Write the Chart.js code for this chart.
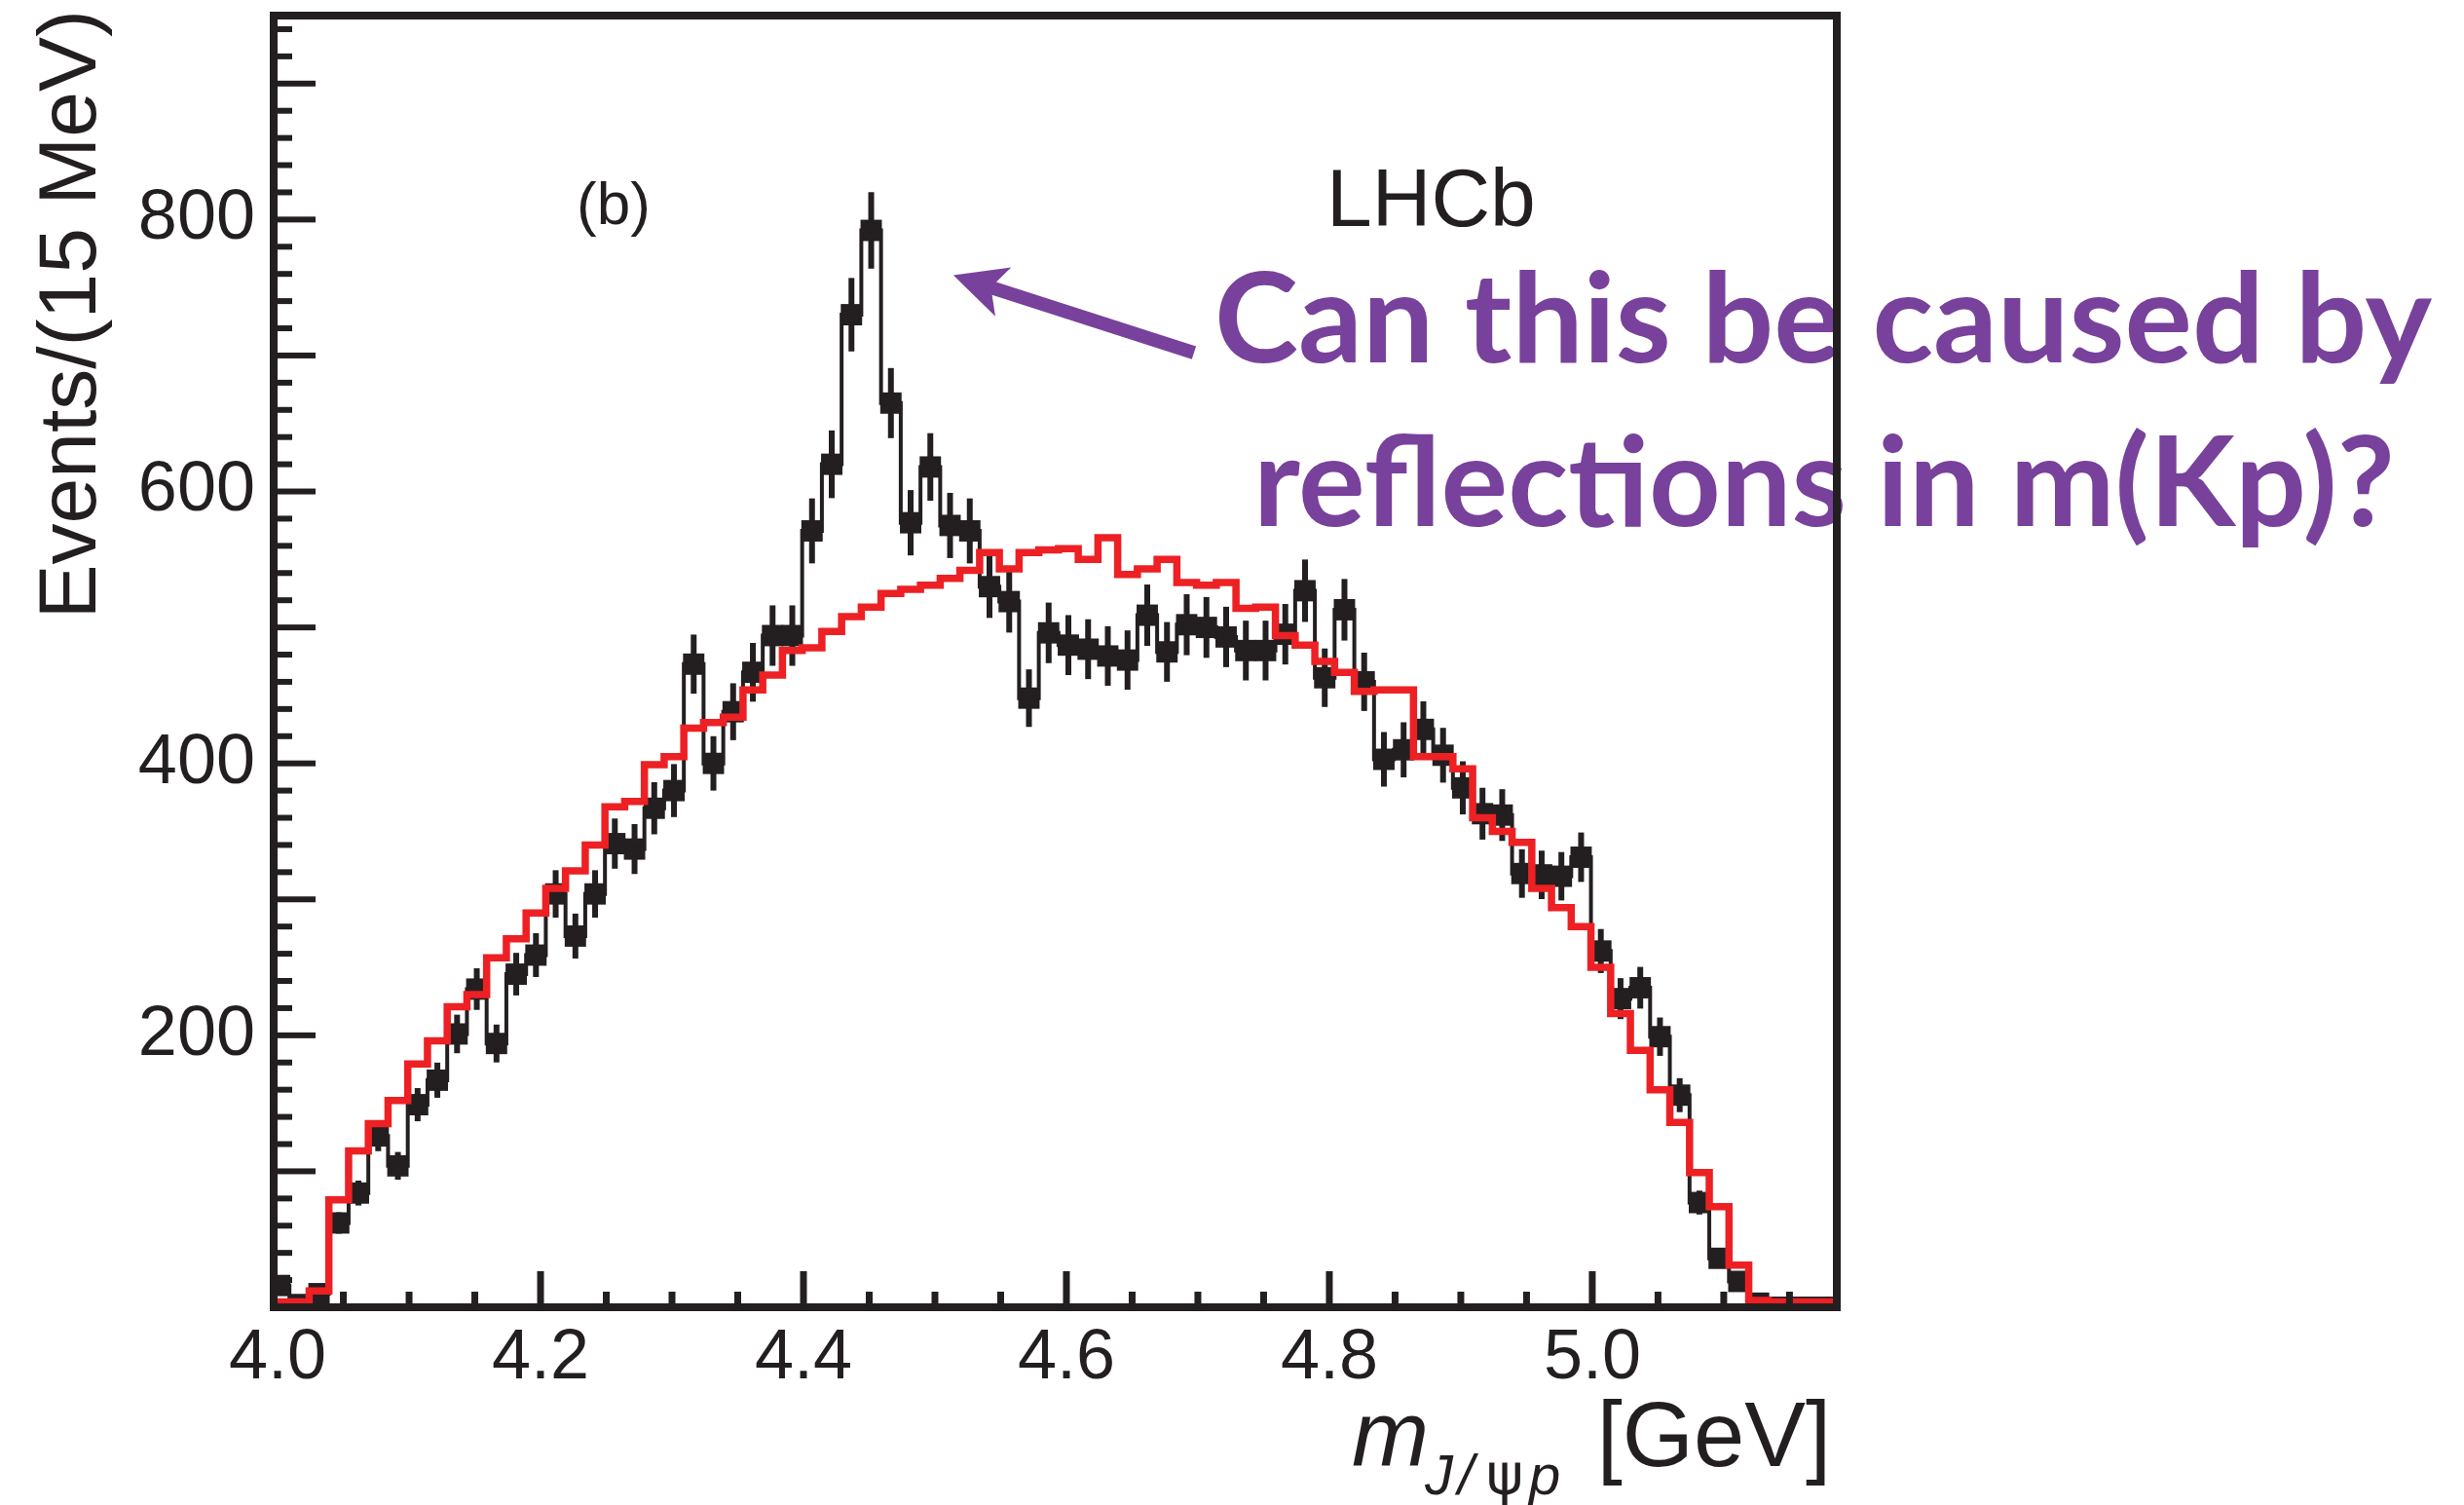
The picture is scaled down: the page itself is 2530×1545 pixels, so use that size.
<!DOCTYPE html>
<html>
<head>
<meta charset="utf-8">
<script src="https://cdn.jsdelivr.net/npm/chart.js@4.4.1/dist/chart.umd.min.js"></script>
<style>
  html, body { margin: 0; padding: 0; background: #fff; }
  canvas { display: block; }
</style>
</head>
<body>
<canvas id="grafico" width="2530" height="1545"></canvas>
<script>
// bins of 15 MeV, first low edge
const binStart = 3.994
const binWidth = 0.015

const events = [
  16, 2, 10, 62, 84, 126, 104, 149, 167, 201,
  234, 194, 245, 259, 304, 273, 304, 341, 337, 367,
  380, 473, 400, 438, 467, 494, 494, 571, 620, 730,
  792, 665, 577, 618, 575, 571, 530, 519, 448, 496,
  487, 484, 479, 476, 509, 482, 502, 500, 493, 483,
  483, 495, 527, 463, 513, 460, 403, 410, 425, 406,
  382, 363, 362, 319, 318, 317, 331, 262, 227, 235,
  199, 156, 77, 36, 19, 3, 0, 0, 0, 0
]

const model = [
  4, 4, 12, 79, 115, 135, 152, 179, 196, 221,
  230, 257, 271, 290, 308, 321, 340, 368, 372, 399,
  405, 426, 430, 434, 454, 465, 483, 485, 497, 508,
  515, 525, 528, 531, 536, 542, 555, 543, 555, 557,
  558, 550, 566, 539, 543, 550, 533, 531, 533, 514,
  515, 494, 487, 475, 467, 453, 454, 454, 405, 405,
  396, 360, 350, 342, 308, 294, 280, 250, 216, 189,
  160, 136, 99, 74, 31, 5, 4, 4, 4, 4
]

const xTicks = [4.0, 4.2, 4.4, 4.6, 4.8, 5.0]
const yTicks = [200, 400, 600, 800]

const black = '#231f20'
const red = '#ed2024'
const purple = '#78419b'

function stepPoints(values) {
  const pts = values.map((v, i) => ({ x: binStart + i * binWidth, y: v }))
  pts.push({ x: binStart + values.length * binWidth, y: values[values.length - 1] })
  return pts
}

const centers = events.map((v, i) => ({ x: binStart + (i + 0.5) * binWidth, y: v }))

function fitText(ctx, text, x, y, width) {
  const w = ctx.measureText(text).width
  ctx.save()
  ctx.translate(x, y)
  ctx.scale(width / w, 1)
  ctx.fillText(text, 0, 0)
  ctx.restore()
}

const decor = {
  id: 'decor',
  beforeDatasetsDraw(chart) {
    const ctx = chart.ctx
    const xs = chart.scales.x
    const ys = chart.scales.y
    const a = chart.chartArea
    ctx.save()
    ctx.beginPath()
    ctx.rect(a.left, a.top, a.right - a.left, a.bottom - a.top)
    ctx.clip()
    ctx.strokeStyle = black
    ctx.lineWidth = 6
    centers.forEach(p => {
      if (p.y <= 0) return
      const e = Math.sqrt(p.y)
      const px = xs.getPixelForValue(p.x)
      ctx.beginPath()
      ctx.moveTo(px, ys.getPixelForValue(p.y - e))
      ctx.lineTo(px, ys.getPixelForValue(p.y + e))
      ctx.stroke()
    })
    ctx.restore()
  },
  afterDraw(chart) {
    const ctx = chart.ctx
    const xs = chart.scales.x
    const ys = chart.scales.y
    const a = chart.chartArea
    ctx.save()

    // annotation
    ctx.fillStyle = purple
    ctx.font = 'bold 128px Lato'
    ctx.textAlign = 'left'
    ctx.textBaseline = 'alphabetic'
    fitText(ctx, 'Can this be caused by', 1247, 372, 1250)
    fitText(ctx, 'reflections in m(Kp)?', 1287, 540, 1172)

    const tx = xs.getPixelForValue(4.514), ty = ys.getPixelForValue(759)
    const ex = xs.getPixelForValue(4.697), ey = ys.getPixelForValue(702)
    const len = Math.hypot(ex - tx, ey - ty)
    ctx.translate(tx, ty)
    ctx.rotate(Math.atan2(ey - ty, ex - tx))
    ctx.beginPath()
    ctx.moveTo(0, 0)
    ctx.lineTo(54, -26)
    ctx.lineTo(44, -7)
    ctx.lineTo(len, -7)
    ctx.lineTo(len, 7)
    ctx.lineTo(44, 7)
    ctx.lineTo(54, 27)
    ctx.closePath()
    ctx.fill()
    ctx.setTransform(1, 0, 0, 1, 0, 0)

    // ticks inside the frame
    ctx.fillStyle = black
    for (let v = 20; v < 950; v += 20) {
      const y = ys.getPixelForValue(v)
      ctx.fillRect(a.left, y - 3, v % 100 === 0 ? 43 : 19, 6)
    }
    for (let i = 1; i <= 23; i++) {
      const x = xs.getPixelForValue(4 + i * 0.05)
      const l = i % 4 === 0 ? 37 : 16
      ctx.fillRect(x - 3.5, a.bottom - l, 7, l)
    }

    ctx.strokeStyle = black
    ctx.lineWidth = 8
    ctx.strokeRect(a.left, a.top, a.right - a.left, a.bottom - a.top)

    // labels
    ctx.fillStyle = black
    ctx.font = '62px "Liberation Sans"'
    ctx.fillText('(b)', 592, 230)
    ctx.font = '84px "Liberation Sans"'
    ctx.fillText('LHCb', 1362, 232)

    ctx.save()
    ctx.translate(98, 10)
    ctx.rotate(-Math.PI / 2)
    ctx.textAlign = 'right'
    ctx.font = '84px "Liberation Sans"'
    ctx.fillText('Events/(15 MeV)', 0, 0)
    ctx.restore()

    ctx.textAlign = 'left'
    ctx.font = 'italic 95px "Liberation Sans"'
    ctx.fillText('m', 1388, 1505)
    ctx.font = 'italic 58px "Liberation Sans"'
    ctx.fillText('J', 1463, 1534)
    ctx.fillText('/', 1497, 1534)
    ctx.fillText('p', 1570, 1534)
    ctx.font = '58px "DejaVu Sans"'
    ctx.fillText('ψ', 1526, 1534)
    ctx.textAlign = 'right'
    ctx.font = '94px "Liberation Sans"'
    ctx.fillText('[GeV]', 1880, 1505)
    ctx.restore()
  }
}

new Chart(document.getElementById('grafico'), {
  type: 'scatter',
  data: {
    datasets: [
      {
        type: 'line',
        data: stepPoints(model),
        stepped: true,
        borderColor: red,
        borderWidth: 7.5,
        pointRadius: 0,
        fill: false,
        clip: 0
      },
      {
        type: 'line',
        data: stepPoints(events),
        stepped: true,
        borderColor: black,
        borderWidth: 4,
        pointRadius: 0,
        fill: false,
        clip: 0
      },
      {
        data: centers,
        pointStyle: 'rect',
        pointRadius: 15.5,
        backgroundColor: black,
        borderWidth: 0,
        clip: 0
      }
    ]
  },
  options: {
    responsive: false,
    animation: false,
    devicePixelRatio: 1,
    layout: { padding: { top: 16, right: 644, left: 0, bottom: 0 } },
    plugins: { legend: { display: false }, tooltip: { enabled: false } },
    scales: {
      x: {
        type: 'linear',
        min: 3.997,
        max: 5.186,
        grid: { display: false, drawTicks: false },
        border: { display: false },
        afterBuildTicks: s => { s.ticks = xTicks.map(v => ({ value: v })) },
        afterFit: s => {
          s.height = 203
          s.paddingLeft = 0
          s.paddingRight = 0
        },
        ticks: {
          color: black,
          font: { family: 'Liberation Sans', size: 72 },
          padding: 10,
          maxRotation: 0,
          autoSkip: false,
          callback: v => v.toFixed(1)
        }
      },
      y: {
        min: 0,
        max: 950,
        grid: { display: false, drawTicks: false },
        border: { display: false },
        afterBuildTicks: s => { s.ticks = yTicks.map(v => ({ value: v })) },
        afterFit: s => {
          s.width = 281
          s.paddingTop = 0
          s.paddingBottom = 0
        },
        ticks: {
          color: black,
          font: { family: 'Liberation Sans', size: 72 },
          padding: 19,
          callback: v => String(v)
        }
      }
    }
  },
  plugins: [decor]
})
</script>
</body>
</html>
